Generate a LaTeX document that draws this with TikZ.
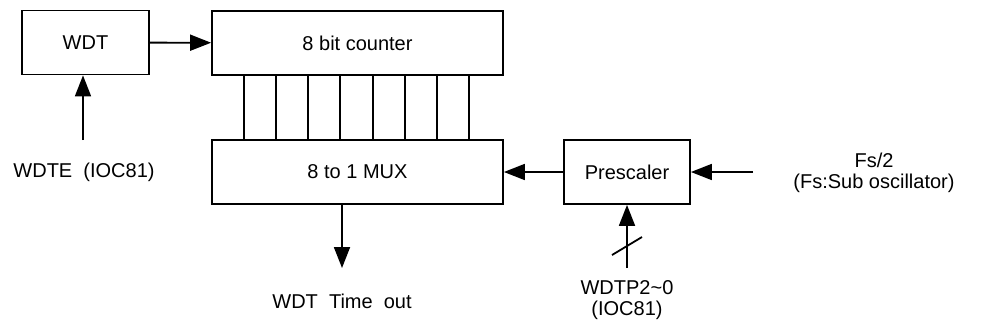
\documentclass[tikz,border=0pt]{standalone}
\usepackage{fontspec}
\setmainfont{Liberation Sans}
\usetikzlibrary{arrows.meta,calc}
\begin{document}
\begin{tikzpicture}[x=1pt,y=-1pt,
  box/.style={draw,line width=1.8pt,minimum height=64pt,inner sep=0pt,font=\fontsize{20}{24}\selectfont},
  lbl/.style={inner sep=0pt,align=center,font=\fontsize{20}{21.5}\selectfont},
  arr/.style={line width=1.8pt,-{Triangle[length=21pt,width=16pt]}},
  wire/.style={line width=1.8pt}]
\useasboundingbox (0,0) rectangle (987,329);
\node[box,minimum width=127pt] (wdt) at (85.5,42.5) {WDT};
\node[box,minimum width=291pt] (counter) at (357.5,43) {8 bit counter};
\node[box,minimum width=291pt] (mux) at (357.5,172) {8 to 1 MUX};
\node[box,minimum width=126pt] (pre) at (627,172) {Prescaler};
\node[lbl] (wdte) at (84,172) {WDTE~~(IOC81)};
\node[lbl] (timeout) at (342,301) {WDT~~Time~~out};
\node[lbl] (wdtp) at (627,300) {WDTP2\char`~0\\(IOC81)};
\node[lbl] (fs) at (874,173) {Fs/2\\(Fs:Sub oscillator)};
\coordinate (wdtein) at (83,140);
\coordinate (toend) at (342,268);
\coordinate (fsin) at (753,172);
\coordinate (wdtpin) at (627,268);
\draw[arr] (wdt) -- (counter);
\draw[arr] (wdtein) -- (wdtein |- wdt.south);
\foreach \d in {33,65,97,129,162,194,226,258}
  \draw[wire] ($(counter.south west)+(\d,0)$) -- ($(mux.north west)+(\d,0)$);
\draw[arr] (toend |- mux.south) -- (toend);
\draw[arr] (pre) -- (mux);
\draw[arr] (fsin) -- (pre);
\draw[arr] (wdtpin) -- (pre);
\draw[wire] ($(wdtpin)+(-15,-13)$) -- ($(wdtpin)+(15,-31)$);
\end{tikzpicture}
\end{document}
